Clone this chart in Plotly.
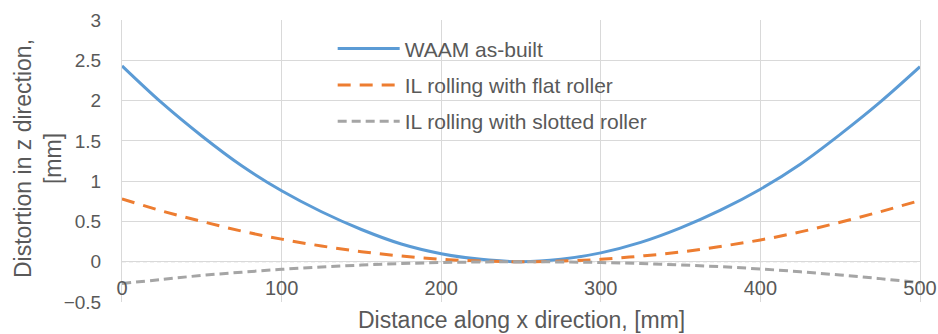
import plotly.graph_objects as go

x_mm = [0, 25, 50, 75, 100, 125, 150, 175, 200, 225, 250,
        275, 300, 325, 350, 375, 400, 425, 450, 475, 500]
waam = [2.43, 1.97, 1.56, 1.19, 0.88, 0.62, 0.40, 0.22, 0.10, 0.03, 0.00,
        0.03, 0.11, 0.24, 0.42, 0.64, 0.90, 1.21, 1.58, 1.98, 2.42]
flat = [0.78, 0.63, 0.50, 0.38, 0.28, 0.195, 0.125, 0.07, 0.03, 0.008, 0.0,
        0.008, 0.03, 0.07, 0.12, 0.19, 0.27, 0.37, 0.49, 0.62, 0.76]
slotted = [-0.27, -0.22, -0.17, -0.13, -0.095, -0.065, -0.042, -0.023, -0.01, -0.003, 0.0,
           -0.003, -0.01, -0.022, -0.04, -0.062, -0.09, -0.125, -0.165, -0.21, -0.26]
names = ["WAAM as-built", "IL rolling with flat roller", "IL rolling with slotted roller"]
x_ticks = [0, 100, 200, 300, 400, 500]
y_ticks = [-0.5, 0, 0.5, 1, 1.5, 2, 2.5, 3]

FONT = "Liberation Sans, Arial, sans-serif"
TXT = "#595959"
GRID = "#D9D9D9"

fig = go.Figure()
fig.add_trace(go.Scatter(x=x_mm, y=waam, name=names[0], mode="lines", legendgroup="a",
                         line=dict(color="#5B9BD5", width=3, shape="spline")))
fig.add_trace(go.Scatter(x=x_mm, y=flat, name=names[1], mode="lines", legendgroup="b",
                         line=dict(color="#ED7D31", width=3, dash="13px,9px", shape="spline")))
fig.add_trace(go.Scatter(x=x_mm, y=slotted, name=names[2], mode="lines", legendgroup="c",
                         line=dict(color="#A5A5A5", width=3, dash="9px,5px", shape="spline")))

# light dashed zero line
fig.add_shape(type="line", xref="paper", yref="y", x0=0, x1=1, y0=0, y1=0,
              line=dict(color="#BFBFBF", width=1, dash="4px,3px"), layer="below")

ymin, ymax = -0.5, 3
fig.update_layout(
    width=938, height=334,
    margin=dict(l=122, r=18, t=20, b=32, autoexpand=False),
    paper_bgcolor="white", plot_bgcolor="white",
    font=dict(family=FONT, color=TXT, size=19),
    showlegend=True,
    legend=dict(x=0.264, y=0.97, xanchor="left", yanchor="top",
                bgcolor="rgba(0,0,0,0)", font=dict(size=21, color=TXT),
                tracegroupgap=6, itemwidth=62),
    xaxis=dict(range=[0, 500], tickvals=x_ticks, showgrid=True, gridcolor=GRID, gridwidth=1,
               zeroline=False, showline=False, ticks="", automargin=False,
               anchor="free", position=(0 - ymin) / (ymax - ymin),
               ticklabelstandoff=12,
               tickfont=dict(size=20, color=TXT)),
    yaxis=dict(range=[ymin, ymax], tickvals=y_ticks, showgrid=True, gridcolor=GRID, gridwidth=1,
               zeroline=False, showline=True, linecolor=GRID, mirror=True, ticks="",
               automargin=False, ticklabelstandoff=16,
               tickfont=dict(size=19, color=TXT)),
)
fig.add_annotation(text="Distortion in z direction,<br>[mm]", xref="paper", yref="paper",
                   x=0, y=0.5, xshift=-84, yshift=2, xanchor="center", yanchor="middle",
                   textangle=-90, showarrow=False, font=dict(size=23, color=TXT))
fig.add_annotation(text="Distance along x direction, [mm]", xref="paper", yref="paper",
                   x=0.5, y=0, yshift=-33, xanchor="center", yanchor="bottom",
                   showarrow=False, font=dict(size=23, color=TXT))

fig.write_html("out.html")
